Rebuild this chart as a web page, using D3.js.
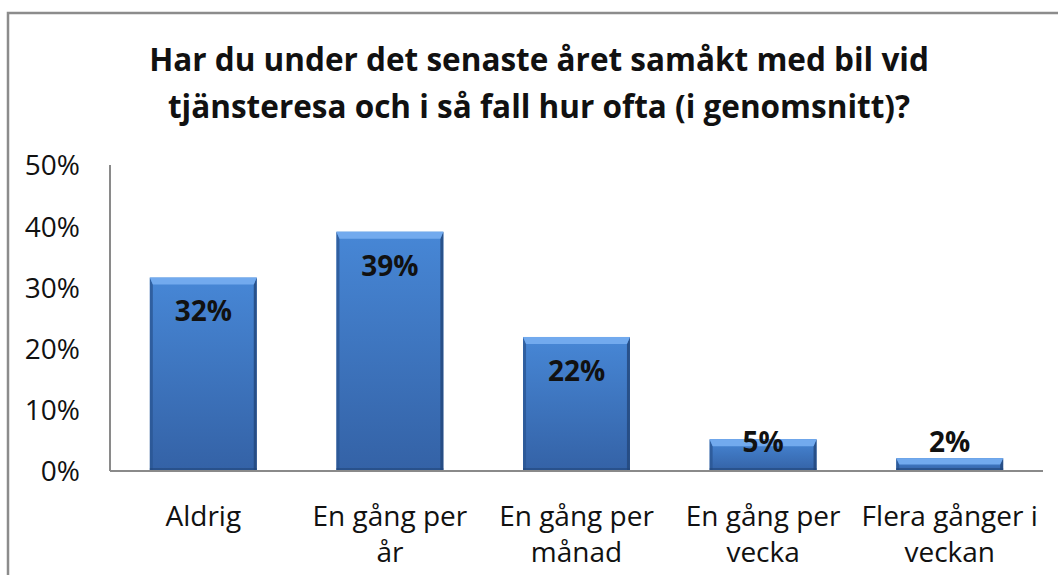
<!DOCTYPE html>
<html>
<head>
<meta charset="utf-8">
<script src="https://cdnjs.cloudflare.com/ajax/libs/d3/7.8.5/d3.min.js"></script>
<style type='text/css'>
  body { margin: 0; background: #fff; }
  svg text { font-family: "Open Sans", sans-serif; fill: #111; }
  .frame { fill: none; stroke: #8c8c8c; stroke-width: 2.5; }
  .axis-line { stroke: #8a8a8a; stroke-width: 2; shape-rendering: crispEdges; }
</style>
</head>
<body>
<div id='chart'></div>
<script type='text/javascript'>
  var titleLines = ["Har du under det senaste året samåkt med bil vid",
                    "tjänsteresa och i så fall hur ofta (i genomsnitt)?"];
  var categories = [["Aldrig"], ["En gång per", "år"], ["En gång per", "månad"],
                    ["En gång per", "vecka"], ["Flera gånger i", "veckan"]];
  var values = [0.316, 0.391, 0.219, 0.052, 0.021];
  var valueLabels = ["32%", "39%", "22%", "5%", "2%"];
  var yTicks = [0, 0.1, 0.2, 0.3, 0.4, 0.5];

  var W = 1058, H = 575;
  var plot = { left: 110, right: 1043, top: 165, bottom: 471 };

  var svg = d3.select("#chart").append("svg")
    .attr("width", W)
    .attr("height", H);

  var defs = svg.append("defs");
  var grad = defs.append("linearGradient")
    .attr("id", "barfill").attr("x1", 0).attr("y1", 0).attr("x2", 0).attr("y2", 1);
  grad.append("stop").attr("offset", "0%").attr("stop-color", "#4787d6");
  grad.append("stop").attr("offset", "100%").attr("stop-color", "#3462a6");

  // outer chart border (runs off the right and bottom edges)
  svg.append("rect").attr("class", "frame")
    .attr("x", 8).attr("y", 13).attr("width", W + 20).attr("height", H + 20);

  // title
  svg.append("g").selectAll("text")
    .data(titleLines).enter().append("text")
    .attr("x", 539)
    .attr("y", function(d, i) { return 71 + i * 47; })
    .attr("text-anchor", "middle")
    .style("font-size", "31.5px")
    .style("font-weight", "bold")
    .text(function(d) { return d; });

  var x = d3.scaleBand()
    .domain(d3.range(categories.length))
    .range([plot.left, plot.right])
    .paddingInner(0.427)
    .paddingOuter(0.2135);

  var y = d3.scaleLinear()
    .domain([0, 0.5])
    .range([plot.bottom, plot.top]);

  // y axis
  var yAxis = d3.axisLeft(y)
    .tickValues(yTicks)
    .tickSize(0)
    .tickPadding(30)
    .tickFormat(d3.format(".0%"));
  var gy = svg.append("g")
    .attr("transform", "translate(" + plot.left + ",0)")
    .call(yAxis);
  gy.select(".domain").remove();
  gy.selectAll("text").style("font-size", "28px").attr("dy", "0.35em")
    .style("fill", "#111");

  svg.append("line").attr("class", "axis-line")
    .attr("x1", plot.left).attr("x2", plot.left)
    .attr("y1", plot.top).attr("y2", plot.bottom);

  // bars with bevel edges
  var bars = svg.append("g").selectAll("g.bar")
    .data(values).enter().append("g").attr("class", "bar");

  bars.append("rect")
    .attr("x", function(d, i) { return x(i); })
    .attr("y", function(d) { return y(d); })
    .attr("width", x.bandwidth())
    .attr("height", function(d) { return plot.bottom - y(d); })
    .attr("fill", "url(#barfill)");

  var bt = 7, bs = 3;
  function sidePath(d, i, left) {
    var x0 = x(i), x1 = x(i) + x.bandwidth(), y0 = y(d), y1 = plot.bottom;
    var t = Math.min(bt, (y1 - y0) / 2);
    if (left) return "M" + x0 + "," + y0 + "L" + (x0 + bs) + "," + (y0 + t) +
      "L" + (x0 + bs) + "," + y1 + "L" + x0 + "," + y1 + "Z";
    return "M" + x1 + "," + y0 + "L" + (x1 - bs) + "," + (y0 + t) +
      "L" + (x1 - bs) + "," + y1 + "L" + x1 + "," + y1 + "Z";
  }
  bars.append("path")
    .attr("d", function(d, i) { return sidePath(d, i, true); })
    .attr("fill", "#2a5693").attr("opacity", 0.8);
  bars.append("path")
    .attr("d", function(d, i) { return sidePath(d, i, false); })
    .attr("fill", "#24497e").attr("opacity", 0.85);
  bars.append("path")
    .attr("d", function(d, i) {
      var x0 = x(i), x1 = x(i) + x.bandwidth(), y0 = y(d);
      var t = Math.min(bt, (plot.bottom - y0) / 2);
      return "M" + x0 + "," + y0 + "L" + x1 + "," + y0 + "L" + (x1 - bs) + "," + (y0 + t) +
        "L" + (x0 + bs) + "," + (y0 + t) + "Z";
    })
    .attr("fill", "#72aaee");
  bars.append("rect")
    .attr("x", function(d, i) { return x(i); })
    .attr("y", function(d) { return plot.bottom - 3; })
    .attr("width", x.bandwidth())
    .attr("height", 3)
    .attr("fill", "#22467a").attr("opacity", 0.6);

  // x axis line
  svg.append("line").attr("class", "axis-line")
    .attr("x1", plot.left).attr("x2", plot.right)
    .attr("y1", plot.bottom).attr("y2", plot.bottom);

  // value labels
  svg.append("g").selectAll("text")
    .data(values).enter().append("text")
    .attr("x", function(d, i) { return x(i) + x.bandwidth() / 2; })
    .attr("y", function(d) { return Math.min(y(d) + 34, 442); })
    .attr("dy", "0.35em")
    .attr("text-anchor", "middle")
    .style("font-size", "28px")
    .style("font-weight", "bold")
    .text(function(d, i) { return valueLabels[i]; });

  // category labels
  var cat = svg.append("g").selectAll("text")
    .data(categories).enter().append("text")
    .attr("text-anchor", "middle")
    .style("font-size", "28px")
    .attr("transform", function(d, i) {
      return "translate(" + (x(i) + x.bandwidth() / 2) + ",516)";
    });
  cat.selectAll("tspan")
    .data(function(d) { return d; }).enter().append("tspan")
    .attr("x", 0)
    .attr("y", function(d, j) { return j * 36; })
    .attr("dy", "0.35em")
    .text(function(d) { return d; });
</script>
</body>
</html>
